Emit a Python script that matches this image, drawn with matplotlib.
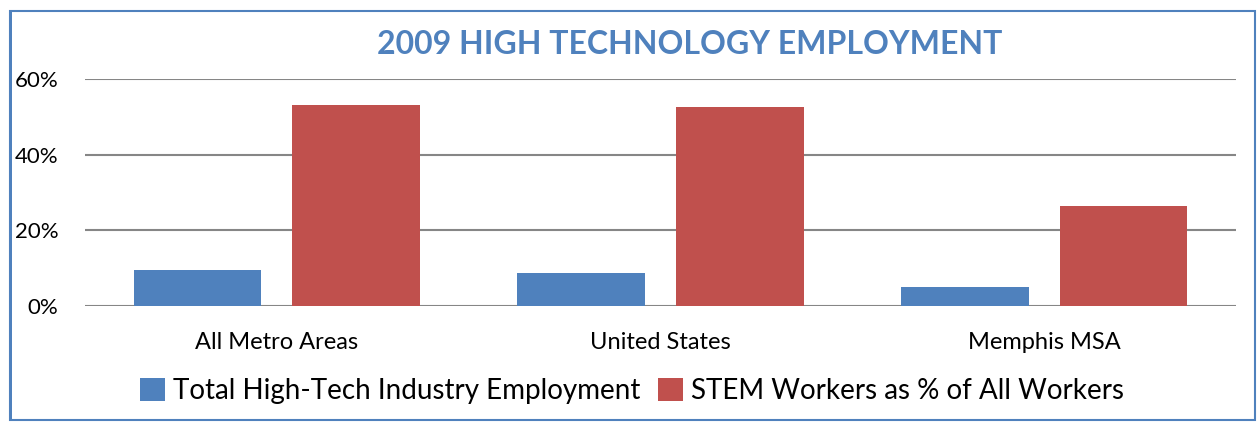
import matplotlib.pyplot as plt
import numpy as np
from matplotlib.patches import Rectangle

categories = ['All Metro Areas', 'United States', 'Memphis MSA']
high_tech = [9.5, 8.7, 5.0]
stem = [53.1, 52.6, 26.4]
series_names = ['Total High-Tech Industry Employment', 'STEM Workers as % of All Workers']
yticks = [0, 20, 40, 60]

blue = '#4F81BD'
red = '#C0504D'

plt.rcParams['font.family'] = ['Lato', 'DejaVu Sans']

W, H = 1257, 422
fig = plt.figure(figsize=(W / 100, H / 100), dpi=100)

# frame around the chart
fig.patches.append(Rectangle((10 / W, 1 - 420 / H), 1245 / W, 409 / H, transform=fig.transFigure,
                             fill=False, edgecolor=blue, linewidth=1.5))
fig.patches.append(Rectangle((9 / W, 1 - 421 / H), 3 / W, 411 / H, transform=fig.transFigure,
                             color=blue, linewidth=0))

ax = fig.add_axes([85 / W, 1 - 306 / H, (1236 - 85) / W, (306 - 79) / H])

x = np.arange(len(categories))
w = 0.333
ax.bar(x - 0.207, high_tech, w, color=blue, label=series_names[0], zorder=3)
ax.bar(x + 0.207, stem, w, color=red, label=series_names[1], zorder=3)

ax.set_xlim(-0.5, 2.5)
ax.set_ylim(0, 60)
ax.set_yticks(yticks)
ax.set_yticklabels([f'{v}%' for v in yticks], fontsize=16)
ax.set_xticks(x)
ax.set_xticklabels(categories, fontsize=17)
ax.tick_params(axis='both', length=0)
ax.tick_params(axis='y', pad=19)
ax.tick_params(axis='x', pad=19)
ax.grid(axis='y', color='#868686', linewidth=1.5, zorder=0)
for s in ax.spines.values():
    s.set_visible(False)

fig.text(690 / W, 1 - 44 / H, '2009 HIGH TECHNOLOGY EMPLOYMENT', ha='center', va='center',
         fontsize=23, fontweight='bold', color=blue)

fig.legend(loc='center', bbox_to_anchor=(632 / W, 1 - 391 / H), ncol=2, frameon=False,
           fontsize=20, handlelength=0.9, handleheight=0.9, handletextpad=0.3, columnspacing=0.6,
           borderaxespad=0)

fig.savefig('out.png', dpi=100)
